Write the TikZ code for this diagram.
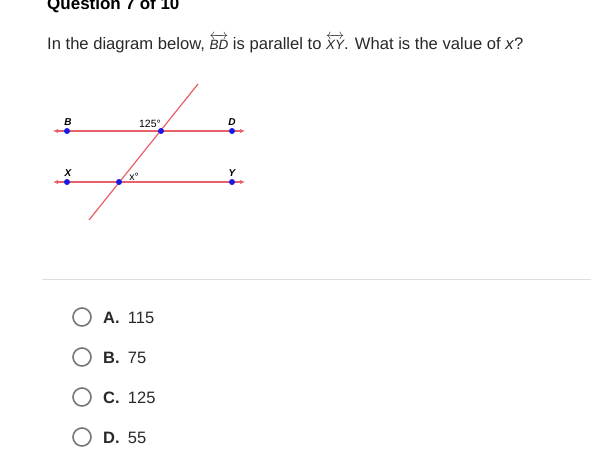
\documentclass[tikz,border=0pt]{standalone}
\usepackage{fontspec}
\setmainfont{Liberation Sans}
\usepackage{amsmath}
\usetikzlibrary{arrows.meta}

\definecolor{linered}{RGB}{232,96,104}
\definecolor{dotblue}{RGB}{25,25,225}
\definecolor{ringgray}{RGB}{118,118,118}
\definecolor{rulegray}{RGB}{222,222,222}
\definecolor{textgray}{RGB}{40,40,40}

\begin{document}
\begin{tikzpicture}[x=1pt,y=-1pt,
  redline/.style={draw=linered, line width=1.2pt},
  rayline/.style={redline, {Latex[length=5pt,width=4.5pt]}-{Latex[length=5pt,width=4.5pt]}},
  dot/.style={circle, fill=dotblue, inner sep=0pt, minimum size=6pt},
  ptlabel/.style={font=\fontsize{10}{10}\selectfont\bfseries\itshape, inner sep=0pt},
  anglabel/.style={font=\fontsize{10.5}{10.5}\selectfont, inner sep=0pt},
  optring/.style={circle, draw=ringgray, line width=1.6pt, minimum size=18pt, inner sep=0pt},
  opttext/.style={anchor=base west, inner sep=0pt, text=textgray, font=\fontsize{16.5}{19}\selectfont}]

  \useasboundingbox (0,0) rectangle (591,474);

  % heading and question
  \node[anchor=base west, inner sep=0pt, font=\fontsize{17}{20}\selectfont\bfseries] (title) at (47,9) {Question 7 of 10};
  \node[anchor=base west, inner sep=0pt, text=textgray, font=\fontsize{16.6}{19}\selectfont] (question) at (47,49)
    {In the diagram below, {\fontsize{13.5}{13.5}\selectfont$\overleftrightarrow{\textit{BD}}$} is parallel to
     {\fontsize{13.5}{13.5}\selectfont$\overleftrightarrow{\textit{XY}}$}. What is the value of \textit{x}?};

  % the two parallel lines
  \coordinate (topL) at (53,131);
  \coordinate (topR) at (245,131);
  \coordinate (botL) at (53,182);
  \coordinate (botR) at (245,182);
  \draw[rayline] (topL) -- (topR);
  \draw[rayline] (botL) -- (botR);

  % transversal
  \coordinate (transA) at (89,220);
  \coordinate (transB) at (198,84);
  \draw[redline] (transA) -- (transB);

  % points on the lines
  \node[dot] (B) at (67,131) {};
  \node[dot] (P) at (161,131) {};
  \node[dot] (D) at (232,131) {};
  \node[dot] (X) at (67,182) {};
  \node[dot] (Q) at (119,182) {};
  \node[dot] (Y) at (232,182) {};

  % labels
  \node[ptlabel] (labB) at (68,122) {B};
  \node[ptlabel] (labD) at (232,122) {D};
  \node[ptlabel] (labX) at (68,173) {X};
  \node[ptlabel] (labY) at (232,173) {Y};
  \node[anglabel] (ang1) at (150,124) {125°};
  \node[anglabel] (ang2) at (134,177) {x°};

  % separator
  \coordinate (sepL) at (42,279);
  \coordinate (sepR) at (591,279);
  \draw[rulegray, line width=1pt] (sepL) -- (sepR);

  % answer choices
  \foreach \lab/\val/\yy in {A/115/317, B/75/357, C/125/397, D/55/437} {
    \node[optring] (ring\lab) at (82,\yy) {};
    \node[opttext] (opt\lab) at (103,\yy+6) {\textbf{\lab.}\enspace\val};
  }

\end{tikzpicture}
\end{document}
